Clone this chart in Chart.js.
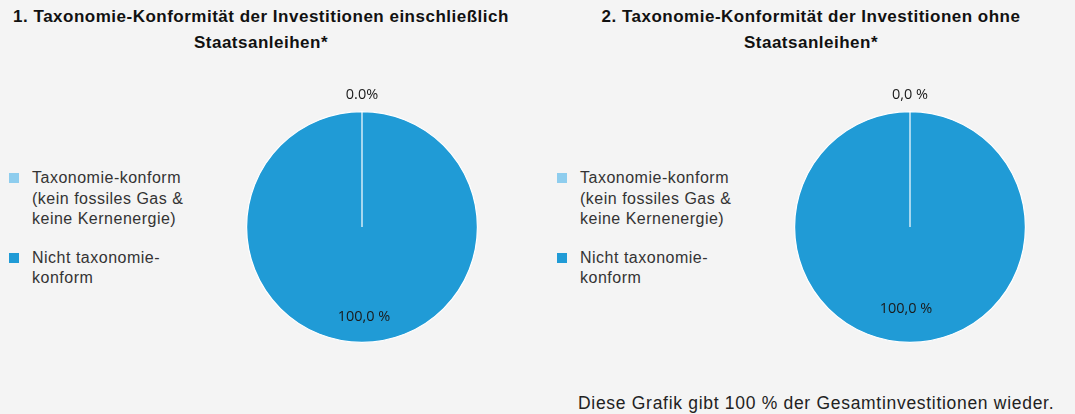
<!DOCTYPE html>
<html><head><meta charset="utf-8">
<script src="https://cdn.jsdelivr.net/npm/chart.js@4.4.1/dist/chart.umd.min.js"></script>
<style>
html,body{margin:0;padding:0;background:#f4f4f4;width:1075px;height:414px;overflow:hidden;font-family:"Liberation Sans",Arial,sans-serif;}
.title{position:absolute;text-align:center;font-weight:bold;font-size:17px;letter-spacing:0.5px;line-height:26px;color:#111;}
.legend{position:absolute;font-size:16px;letter-spacing:0.5px;line-height:20.5px;color:#333;}
.item{position:relative;padding-left:23px;margin-bottom:18px;}
.sw{position:absolute;left:0;top:5px;width:10px;height:10px;}
.wrap{position:absolute;width:300px;height:300px;}
.foot{position:absolute;left:578px;top:393px;font-size:17.5px;letter-spacing:0.7px;color:#222;white-space:nowrap;}
</style></head><body>
<div class="title" id="t1" style="left:0px;top:4px;width:522px;"></div>
<div class="title" id="t2" style="left:548px;top:4px;width:526px;"></div>
<div class="legend" id="lg1" style="left:9px;top:168px;width:220px;"></div>
<div class="legend" id="lg2" style="left:557px;top:168px;width:220px;"></div>
<div class="wrap" style="left:212px;top:77px;"><canvas id="c1" width="300" height="300"></canvas></div>
<div class="wrap" style="left:760px;top:77px;"><canvas id="c2" width="300" height="300"></canvas></div>
<div class="foot" id="foot"></div>
<script>
// ---- data ----
const categories = ["Taxonomie-konform (kein fossiles Gas & keine Kernenergie)", "Nicht taxonomie-konform"];
const legendLines = [["Taxonomie-konform", "(kein fossiles Gas &", "keine Kernenergie)"], ["Nicht taxonomie-", "konform"]];
const values1 = [0.0, 100.0];
const values2 = [0.0, 100.0];
const labels1 = ["0.0%", "100,0 %"];
const labels2 = ["0,0 %", "100,0 %"];
const title1 = ["1. Taxonomie-Konformität der Investitionen einschließlich", "Staatsanleihen*"];
const title2 = ["2. Taxonomie-Konformität der Investitionen ohne", "Staatsanleihen*"];
const footnote = "Diese Grafik gibt 100 % der Gesamtinvestitionen wieder.";
const colors = ["#8ecdee", "#209bd6"];

document.getElementById('t1').innerHTML = title1.join('<br>');
document.getElementById('t2').innerHTML = title2.join('<br>');
document.getElementById('foot').textContent = footnote;
function buildLegend(id){
  const el = document.getElementById(id);
  legendLines.forEach((lines,i)=>{
    const d = document.createElement('div'); d.className='item';
    const s = document.createElement('span'); s.className='sw'; s.style.background=colors[i];
    d.appendChild(s);
    const t = document.createElement('div'); t.innerHTML = lines.join('<br>');
    d.appendChild(t); el.appendChild(d);
  });
}
buildLegend('lg1'); buildLegend('lg2');

const labelPlugin = {
  id:'sliceLabels',
  afterDatasetsDraw(chart, args, opts){
    const ctx = chart.ctx;
    const meta = chart.getDatasetMeta(0);
    ctx.save();
    ctx.font = '14.5px "Open Sans", "Noto Sans", sans-serif';
    ctx.fillStyle = '#1a1a1a';
    ctx.textAlign = 'center'; ctx.textBaseline = 'middle';
    meta.data.forEach((arc,i)=>{
      const p = arc.getProps(['x','y','startAngle','endAngle','outerRadius'], true);
      const mid = (p.startAngle + p.endAngle)/2;
      const r = (p.endAngle - p.startAngle) < 0.01 ? p.outerRadius + opts.outside : p.outerRadius * opts.inside;
      ctx.fillText(opts.texts[i], p.x + Math.cos(mid)*r + (opts.dx ? opts.dx[i] : 0), p.y + Math.sin(mid)*r);
    });
    ctx.restore();
  }
};

function makePie(id, values, texts, inside, dx){
  new Chart(document.getElementById(id), {
    type:'pie',
    data:{labels:categories, datasets:[{data:values, backgroundColor:colors, borderColor:'#ffffff', borderWidth:1.2}]},
    options:{
      responsive:false, animation:false,
      layout:{padding:34},
      plugins:{legend:{display:false}, tooltip:{enabled:false},
        sliceLabels:{texts:texts, inside:inside, outside:17, dx:dx}}
    },
    plugins:[labelPlugin]
  });
}
makePie('c1', values1, labels1, 0.78, [0, 2]);
makePie('c2', values2, labels2, 0.71, [0, -4]);
</script>
</body></html>
